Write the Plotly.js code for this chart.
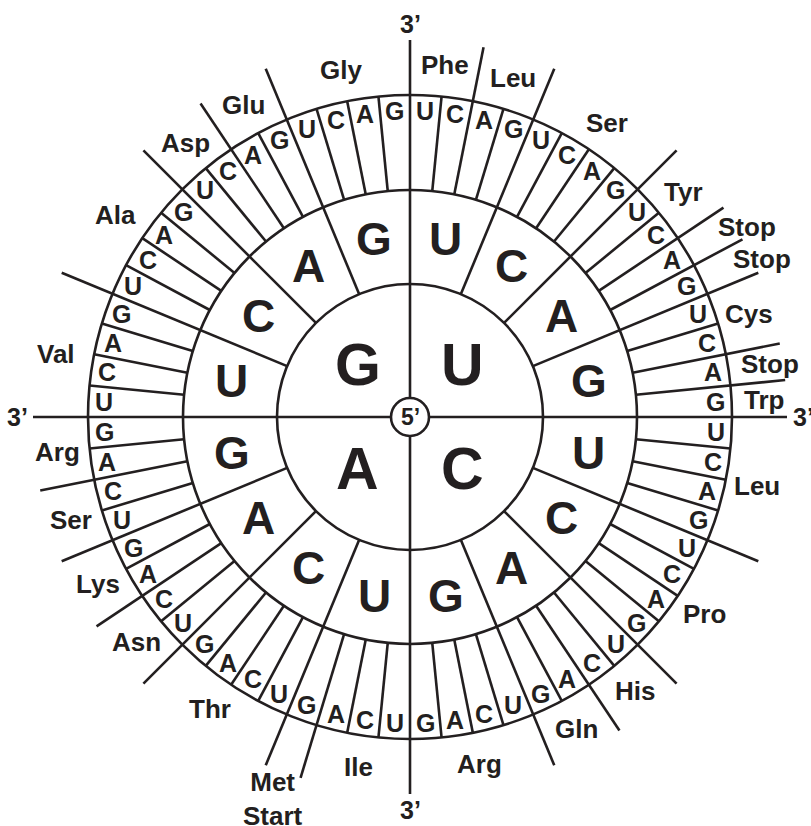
<!DOCTYPE html>
<html>
<head>
<meta charset="utf-8">
<script src="https://cdn.plot.ly/plotly-3.0.1.min.js"></script>
<style>
html,body{margin:0;padding:0;background:#ffffff;}
#chart{width:811px;height:826px;}
</style>
</head>
<body>
<div id="chart"></div>
<script>
// ---------------- DATA ----------------
// Nucleotides in clockwise order inside every ring
const firstLetters  = ['U','C','A','G'];   // 5' base (inner circle, one per quadrant)
const secondLetters = ['U','C','A','G'];   // middle ring
const thirdLetters  = ['U','C','A','G'];   // outer ring (3' base)
// Amino-acid labels, clockwise from the top, and the first codon (0..63) each covers
const aminoAcids = ['Phe','Leu','Ser','Tyr','Stop','Stop','Cys','Stop','Trp',
                    'Leu','Pro','His','Gln','Arg',
                    'Ile','Met<br>Start','Thr','Asn','Lys','Ser','Arg',
                    'Val','Ala','Asp','Glu','Gly'];
const aaFirstCodon = [0,2,4,8,10,11,12,14,15,
                      16,20,24,26,28,
                      32,35,36,40,42,44,46,
                      48,52,56,58,60];
const endLabel   = '3’';
const startLabel = '5’';

// ---------------- STYLE / GEOMETRY ----------------
const INK = '#231f20';
const FONT = 'Liberation Sans, Arial, Helvetica, sans-serif';
const R_CENTER = 19, R_INNER = 133, R_MIDDLE = 227, R_OUTER = 322, R_LINE = 377;
const R_TXT1 = 74, R_TXT2 = 182, R_TXT3 = 306, R_AA = 354, R_END = 393;
const SIZE1 = 59, SIZE2 = 46, SIZE3 = 25, SIZE_AA = 26, SIZE_END = 25, SIZE_5 = 23;
// per-label placement tweaks (radius, angle shift in degrees)
const aaRadius = {4:387, 5:386, 7:364, 15:406, 21:360, 22:357};
const aaShift  = {4:1.5, 5:1.1, 16:0.6, 21:-1.1, 22:0.8};

const nCodons = firstLetters.length * secondLetters.length * thirdLetters.length; // 64
const step = 360 / nCodons;
const rad = d => d * Math.PI / 180;
const px = (r, a) => r * Math.sin(rad(a));   // angle clockwise from north
const py = (r, a) => r * Math.cos(rad(a));

// ---------------- LINES ----------------
const aaSet = new Set(aaFirstCodon);
const quadSize = secondLetters.length * thirdLetters.length;
const lx = [], ly = [];
for (let k = 0; k < nCodons; k++) {
  const a = k * step;
  const r0 = (k % quadSize === 0) ? R_CENTER : (k % thirdLetters.length === 0 ? R_INNER : R_MIDDLE);
  const r1 = (k % thirdLetters.length === 0 || aaSet.has(k)) ? R_LINE : R_OUTER;
  lx.push(px(r0, a), px(r1, a), null);
  ly.push(py(r0, a), py(r1, a), null);
}
const traces = [{
  type: 'scatter', mode: 'lines', x: lx, y: ly,
  line: {color: INK, width: 2.6}, hoverinfo: 'skip', showlegend: false
}];

// ---------------- CIRCLES ----------------
const shapes = [R_INNER, R_MIDDLE, R_OUTER, R_CENTER].map(r => ({
  type: 'circle', xref: 'x', yref: 'y', x0: -r, y0: -r, x1: r, y1: r,
  line: {color: INK, width: 2.6}, fillcolor: r === R_CENTER ? '#ffffff' : 'rgba(0,0,0,0)',
  layer: 'above'
}));

// ---------------- TEXT ----------------
const ann = [];
function addText(text, r, a, size) {
  ann.push({x: px(r, a), y: py(r, a), xref: 'x', yref: 'y', text: text, showarrow: false,
            xanchor: 'center', yanchor: 'middle',
            font: {family: FONT, size: size, color: INK, weight: 'bold'}});
}
firstLetters.forEach((b, q) => addText(b, R_TXT1, q * 90 + 45, SIZE1));
firstLetters.forEach((b1, q) => secondLetters.forEach((b2, s) =>
  addText(b2, R_TXT2, (q * 4 + s) * 22.5 + 11.25, SIZE2)));
for (let i = 0; i < nCodons; i++) addText(thirdLetters[i % thirdLetters.length], R_TXT3, (i + 0.5) * step, SIZE3);
aminoAcids.forEach((name, j) => {
  const s = aaFirstCodon[j];
  const e = (j + 1 < aaFirstCodon.length) ? aaFirstCodon[j + 1] : nCodons;
  const a = (s + e) / 2 * step + (aaShift[j] || 0);
  addText(name, aaRadius[j] || R_AA, a, SIZE_AA);
});
[0, 90, 180, 270].forEach(a => addText(endLabel, R_END, a, SIZE_END));
ann.push({x: 0, y: 0, xref: 'x', yref: 'y', text: startLabel, showarrow: false,
          xanchor: 'center', yanchor: 'middle',
          font: {family: FONT, size: SIZE_5, color: INK, weight: 'bold'}});

const layout = {
  width: 811, height: 826,
  margin: {l: 0, r: 0, t: 0, b: 0, pad: 0},
  paper_bgcolor: '#ffffff', plot_bgcolor: '#ffffff',
  xaxis: {range: [-410, 401], visible: false, fixedrange: true},
  yaxis: {range: [-409, 417], visible: false, fixedrange: true},
  shapes: shapes, annotations: ann, showlegend: false
};
Plotly.newPlot('chart', traces, layout, {displayModeBar: false, staticPlot: true});
</script>
</body>
</html>
